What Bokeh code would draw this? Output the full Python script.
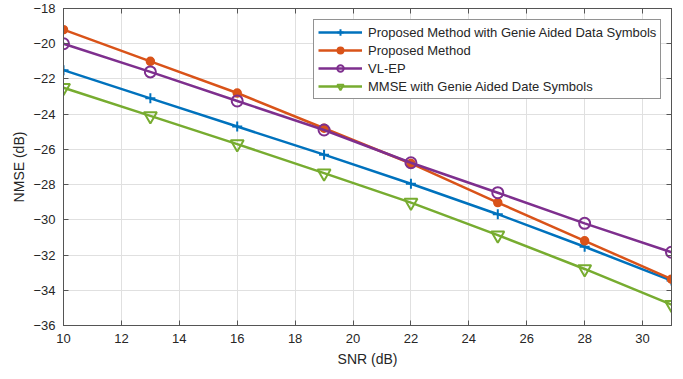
from bokeh.plotting import figure
from bokeh.models import LinearAxis, FixedTicker, Legend, LegendItem, Range1d
from bokeh.embed import file_html
from bokeh.resources import INLINE

snr = [10, 13, 16, 19, 22, 25, 28, 31]
genie = [-21.5, -23.1, -24.7, -26.3, -27.95, -29.68, -31.53, -33.45]
proposed = [-19.2, -21.0, -22.8, -24.8, -26.8, -29.02, -31.19, -33.37]
vlep = [-20.0, -21.6, -23.25, -24.9, -26.76, -28.46, -30.2, -31.84]
mmse = [-22.5, -24.1, -25.7, -27.35, -29.02, -30.87, -32.79, -34.82]

labels = ["Proposed Method with Genie Aided Data Symbols", "Proposed Method",
          "VL-EP", "MMSE with Genie Aided Date Symbols"]
x_ticks = [10, 12, 14, 16, 18, 20, 22, 24, 26, 28, 30]
y_ticks = [-36, -34, -32, -30, -28, -26, -24, -22, -20, -18]

FONT = "Liberation Sans"
TXT = "#262626"

p = figure(width=675, height=369, output_backend="svg", toolbar_location=None,
           x_range=Range1d(10, 31), y_range=Range1d(-36, -18),
           min_border_left=63, min_border_right=4, min_border_top=8, min_border_bottom=40)
p.outline_line_color = "#555555"
p.background_fill_color = "white"
p.border_fill_color = "white"

for ax, tk in ((p.xaxis[0], x_ticks), (p.yaxis[0], y_ticks)):
    ax.ticker = FixedTicker(ticks=tk)
    ax.major_tick_in = 5
    ax.major_tick_out = 0
    ax.minor_tick_line_color = None
    ax.axis_line_color = "#555555"
    ax.major_tick_line_color = "#555555"
    ax.major_label_text_font = FONT
    ax.major_label_text_font_size = "13px"
    ax.major_label_text_color = TXT
    ax.axis_label_text_font = FONT
    ax.axis_label_text_font_size = "14px"
    ax.axis_label_text_font_style = "normal"
    ax.axis_label_text_color = TXT
p.xaxis[0].axis_label = "SNR (dB)"
p.yaxis[0].axis_label = "NMSE (dB)"
p.xaxis[0].major_label_standoff = 8
p.xaxis[0].axis_label_standoff = 5
p.yaxis[0].major_label_standoff = 8
p.yaxis[0].axis_label_standoff = 3

for loc, tk in (("above", x_ticks), ("right", y_ticks)):
    ax = LinearAxis(ticker=FixedTicker(ticks=tk), major_tick_in=5, major_tick_out=0,
                    minor_tick_line_color=None, axis_line_color="#555555",
                    major_tick_line_color="#555555", major_label_text_font_size="1px",
                    major_label_text_color=None, major_label_standoff=0)
    p.add_layout(ax, loc)

p.grid.grid_line_color = "#e0e0e0"
p.grid.grid_line_width = 1
p.xgrid.ticker = FixedTicker(ticks=x_ticks)
p.ygrid.ticker = FixedTicker(ticks=y_ticks)

colors = ["#0072BD", "#D95319", "#7E2F8E", "#77AC30"]
series = [genie, proposed, vlep, mmse]
items = []
for i, (ys, c, lab) in enumerate(zip(series, colors, labels)):
    ln = p.line(snr, ys, line_color=c, line_width=2.5)
    if i == 0:
        mk = p.scatter(snr, ys, marker="cross", size=10, line_color=c, line_width=2)
    elif i == 1:
        mk = p.scatter(snr, ys, marker="circle", size=8, line_color=c, fill_color=c, line_width=1.5)
    elif i == 2:
        mk = p.scatter(snr, ys, marker="circle", size=11, line_color=c, fill_color=None, line_width=2)
    else:
        mk = p.scatter(snr, ys, marker="inverted_triangle", size=13, line_color=c, fill_color=None, line_width=2)
    items.append(LegendItem(label=lab, renderers=[ln, mk]))

leg = Legend(items=items, location=(250, 226), orientation="vertical",
             label_text_font=FONT, label_text_font_size="13px", label_text_color=TXT,
             glyph_width=44, glyph_height=16, spacing=2, padding=4, margin=0,
             label_standoff=6, label_height=16,
             border_line_color="#262626", border_line_width=1,
             background_fill_color="white", background_fill_alpha=1.0)
p.add_layout(leg, "center")

open("out.html", "w").write(file_html(p, INLINE))
